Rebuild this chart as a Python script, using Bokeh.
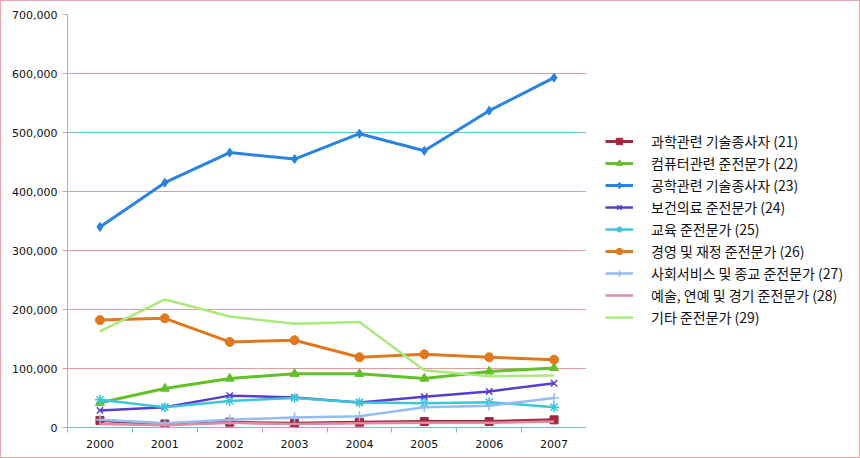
from bokeh.plotting import figure
from bokeh.layouts import row
from bokeh.models import (FixedTicker, NumeralTickFormatter, Legend, LegendItem, Range1d, Grid)
from bokeh.embed import file_html
from bokeh.resources import INLINE

years = ["2000", "2001", "2002", "2003", "2004", "2005", "2006", "2007"]
names = ["과학관련 기술종사자 (21)", "컴퓨터관련 준전문가 (22)", "공학관련 기술종사자 (23)",
         "보건의료 준전문가 (24)", "교육 준전문가 (25)", "경영 및 재정 준전문가 (26)",
         "사회서비스 및 종교 준전문가 (27)", "예술, 연예 및 경기 준전문가 (28)", "기타 준전문가 (29)"]
s21 = [12000, 6000, 9000, 7000, 9000, 10000, 10000, 13000]
s22 = [42000, 66000, 83000, 91000, 91000, 83000, 95000, 101000]
s23 = [340000, 415000, 466000, 455000, 498000, 469000, 537000, 593000]
s24 = [29000, 34500, 54000, 51000, 42500, 52000, 61000, 75000]
s25 = [47000, 34500, 45000, 50000, 42500, 41000, 43000, 34500]
s26 = [182000, 185000, 145000, 148000, 119000, 124000, 119000, 115000]
s27 = [13000, 7000, 13000, 17000, 19000, 34500, 37000, 50000]
s28 = [6000, 4000, 8000, 6000, 7000, 8000, 8000, 10000]
s29 = [163000, 217000, 188000, 176000, 179000, 97000, 87000, 88000]
series = [s21, s22, s23, s24, s25, s26, s27, s28, s29]
y_ticks = [0, 100000, 200000, 300000, 400000, 500000, 600000, 700000]

colors = ["#a3283e", "#62c02a", "#2a82e2", "#5a3cd0", "#3cc6d6", "#e07820", "#92bcf2", "#dc8ca8", "#a8ea7c"]
markers = ["square", "triangle", "diamond", "x", "asterisk", "circle", "cross", None, None]
msizes = [8, 9, 9, 9, 10, 9, 10, 0, 0]
widths = [3, 3, 3, 2.5, 2.5, 3, 2.5, 2.5, 2.5]

xs = list(range(len(years)))

p = figure(width=585, height=456, output_backend="svg", toolbar_location=None,
           x_range=Range1d(-0.5, len(years) - 0.5), y_range=Range1d(0, 700000),
           min_border_left=66, min_border_right=0, min_border_top=13, min_border_bottom=30)
p.outline_line_color = None
p.background_fill_color = "white"
p.border_fill_color = "white"
p.grid.visible = False

g1 = Grid(dimension=1, ticker=FixedTicker(ticks=[500000, 700000]), grid_line_color="#5cc6d0")
g2 = Grid(dimension=1, ticker=FixedTicker(ticks=[100000, 200000, 300000, 400000, 600000]), grid_line_color="#e89aa0")
p.add_layout(g1)
p.add_layout(g2)

p.xaxis.ticker = FixedTicker(ticks=xs, minor_ticks=[i - 0.5 for i in range(len(years) + 1)])
p.xaxis.major_label_overrides = {i: y for i, y in enumerate(years)}
p.xaxis.major_tick_out = 0
p.xaxis.major_tick_in = 0
p.xaxis.minor_tick_out = 5
p.xaxis.minor_tick_in = 0
p.xaxis.minor_tick_line_color = "#70c0c8"
p.xaxis.axis_line_color = "#70c0c8"
p.xaxis.major_label_standoff = 7

p.yaxis.ticker = FixedTicker(ticks=y_ticks)
p.yaxis.formatter = NumeralTickFormatter(format="0,0")
p.yaxis.major_tick_out = 5
p.yaxis.major_tick_in = 0
p.yaxis.minor_tick_line_color = None
p.yaxis.major_tick_line_color = "#e0a0a8"
p.yaxis.axis_line_color = "#e0a0a8"
p.yaxis.major_label_standoff = 5

for ax in (p.xaxis, p.yaxis):
    ax.major_label_text_font = "DejaVu Sans"
    ax.major_label_text_font_size = "11px"
    ax.major_label_text_color = "#111111"

# legend panel
q = figure(width=273, height=456, output_backend="svg", toolbar_location=None,
           x_axis_type=None, y_axis_type=None, x_range=Range1d(0, 1), y_range=Range1d(0, 1),
           min_border=0)
q.outline_line_color = None
q.grid.visible = False
q.background_fill_color = "white"
q.border_fill_color = "white"

hx, hy = [-10, -9], [-10, -10]  # off-screen stand-ins used only for legend swatches
items = []
for i, s in enumerate(series):
    p.line(xs, s, line_color=colors[i], line_width=widths[i])
    rs = [q.line(hx, hy, line_color=colors[i], line_width=widths[i])]
    if markers[i]:
        if markers[i] in ("x", "asterisk", "cross"):
            p.scatter(xs, s, marker=markers[i], size=msizes[i], line_color=colors[i], line_width=1.5)
            rs.append(q.scatter(hx, hy, marker=markers[i], size=msizes[i], line_color=colors[i], line_width=1.5))
        else:
            p.scatter(xs, s, marker=markers[i], size=msizes[i], fill_color=colors[i], line_color=colors[i])
            rs.append(q.scatter(hx, hy, marker=markers[i], size=msizes[i], fill_color=colors[i], line_color=colors[i]))
    items.append(LegendItem(label=names[i], renderers=rs))

legend = Legend(items=items, location=(19, 100), label_text_font="Noto Sans CJK KR",
                label_text_font_size="14px", label_text_color="#111111",
                glyph_width=28, glyph_height=16, label_height=16, spacing=2,
                label_standoff=18, padding=10, margin=0,
                border_line_color=None, background_fill_alpha=0)
q.add_layout(legend, "center")

layout = row(p, q)
layout.styles = {"border": "1px solid #e8a8b0"}
open("out.html", "w").write(file_html(layout, INLINE))
